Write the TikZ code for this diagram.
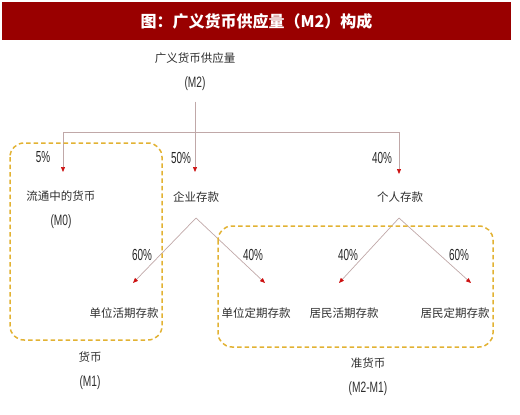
\documentclass[tikz,border=0pt]{standalone}
\usepackage{fontspec}
\usepackage{graphicx}
\setmainfont{Liberation Sans}
\newfontfamily\cjk{Noto Sans CJK SC}
\usetikzlibrary{arrows.meta, positioning}
\definecolor{titlered}{HTML}{990000}
\definecolor{linkgray}{HTML}{C0A8A8}
\definecolor{tipred}{HTML}{CC1010}
\definecolor{boxgold}{HTML}{E2B233}
\newcommand{\pct}[1]{\scalebox{0.62}[1]{#1\%}}
\newcommand{\narrow}[1]{\scalebox{0.68}[1]{\rmfamily\fontsize{15}{25}\selectfont #1}}

\begin{document}
\begin{tikzpicture}[x=1pt, y=-1pt,
    item/.style={font=\cjk\fontsize{11.5}{25}\selectfont, text=black!82, align=center, inner sep=1pt},
    pct/.style={font=\fontsize{16}{16}\selectfont, text=black!85, inner sep=0pt},
    link/.style={draw=linkgray, line width=0.7pt},
    arrow/.style={link, -{Triangle[length=5pt, width=4pt, color=tipred]}},
    group/.style={draw=boxgold, line width=1.5pt, dash pattern=on 4.5pt off 3pt, rounded corners=14pt}
]
    \useasboundingbox (0,0) rectangle (520,415);

    % Title
    \node[fill=titlered, minimum width=509pt, minimum height=38pt, inner sep=0pt,
          text=white, font=\cjk\bfseries\fontsize{16}{18}\selectfont] (title) at (256.5,21)
          {图：广义货币供应量（M2）构成};

    % Nodes
    \node[item] (m2) at (195,71.5) {广义货币供应量\\\narrow{(M2)}};
    \node[item] (cash) at (61,210) {流通中的货币\\\narrow{(M0)}};
    \node[item] (corp) at (196,197) {企业存款};
    \node[item] (personal) at (400,197) {个人存款};
    \node[item] (udem) at (124,313) {单位活期存款};
    \node[item] (uterm) at (256,313) {单位定期存款};
    \node[item] (rdem) at (344,313) {居民活期存款};
    \node[item] (rterm) at (455,313) {居民定期存款};
    \node[item] (m1) at (90,370.5) {货币\\\narrow{(M1)}};
    \node[item] (quasi) at (368,376.5) {准货币\\\narrow{(M2-M1)}};

    % Shares
    \node[pct] (p5) at (43,157) {\pct{5}};
    \node[pct] (p50) at (181,158) {\pct{50}};
    \node[pct] (p40a) at (382,158) {\pct{40}};
    \node[pct] (p60a) at (142,255) {\pct{60}};
    \node[pct] (p40b) at (253,255) {\pct{40}};
    \node[pct] (p40c) at (348,255) {\pct{40}};
    \node[pct] (p60b) at (459,255) {\pct{60}};

    % Connections
    \coordinate (split) at (195,132);
    \coordinate (corpfork) at ([yshift=-21pt]corp.center);
    \coordinate (personalfork) at ([yshift=-21pt,xshift=-1pt]personal.center);
    \path[link, shorten <=10pt] (m2) -- (split);
    \path[arrow] (split) -| ([xshift=2pt,yshift=38pt]cash.center);
    \path[arrow] (split) -- ([xshift=-1pt,yshift=25pt]corp.center);
    \path[arrow] (split) -| ([xshift=-1pt,yshift=23pt]personal.center);
    \path[arrow] (corpfork) -- ([xshift=9pt,yshift=30pt]udem.center);
    \path[arrow] (corpfork) -- ([xshift=9pt,yshift=30pt]uterm.center);
    \path[arrow] (personalfork) -- ([xshift=-5pt,yshift=30pt]rdem.center);
    \path[arrow] (personalfork) -- ([xshift=16pt,yshift=30pt]rterm.center);

    % Groups
    \draw[group] (10,143) rectangle (162,340);
    \draw[group] (218,226) rectangle (493,347);
\end{tikzpicture}
\end{document}
